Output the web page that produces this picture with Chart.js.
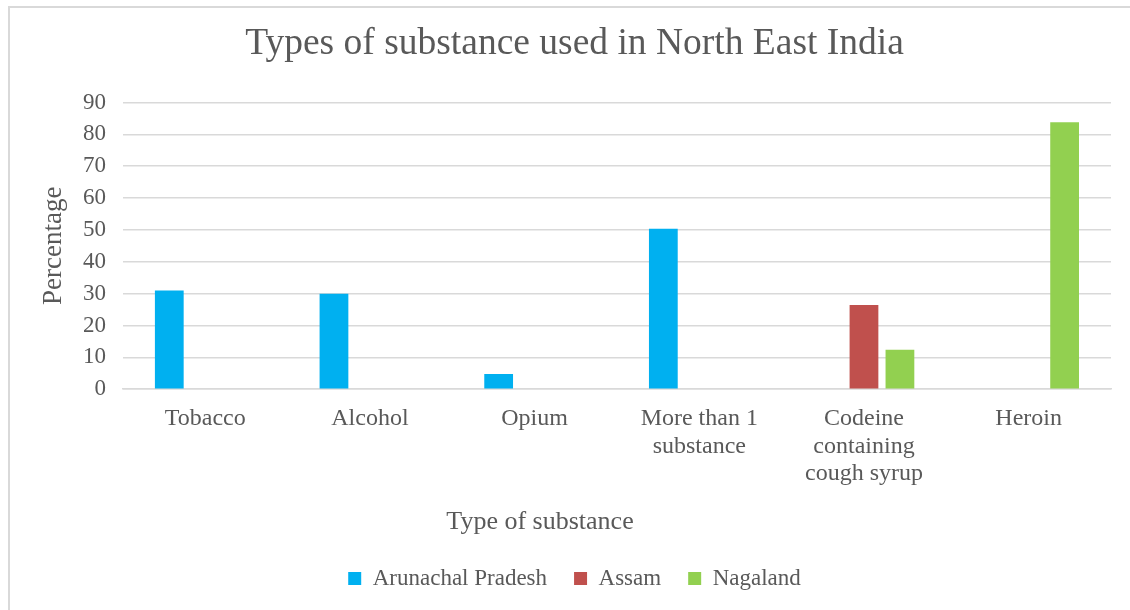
<!DOCTYPE html>
<html>
<head>
<meta charset="utf-8">
<script src="https://cdn.jsdelivr.net/npm/chart.js@4"></script>
<style>
  html, body { margin: 0; padding: 0; background: #fff; overflow: hidden; }
  #wrap { position: relative; width: 1130px; height: 610px; }
  #frame { position: absolute; left: 8px; top: 6px; width: 1200px; height: 700px;
           border-left: 2px solid #d9d9d9; border-top: 2px solid #d9d9d9; box-sizing: border-box; }
  canvas { position: absolute; left: 0; top: 0; }
</style>
</head>
<body>
<div id="wrap">
  <div id="frame"></div>
  <canvas id="substanceChart" width="1130" height="610"></canvas>
</div>
<script>
// ── Types of substance used in North East India ──

const categories = ['Tobacco', 'Alcohol', 'Opium', ['More than 1', 'substance'], ['Codeine', 'containing', 'cough syrup'], 'Heroin'];
const arunachal = [31, 30, 4.8, 50.4, null, null];
const assam     = [null, null, null, null, 26.4, null];
const nagaland  = [null, null, null, null, 12.4, 83.8];
const yTicks    = [0, 10, 20, 30, 40, 50, 60, 70, 80, 90];

const serif = '"Liberation Serif", "Times New Roman", serif';
const grey = '#595959';

// x axis title sits left of centre in the original, so it is drawn by hand
const xTitle = {
  id: 'xTitle',
  afterDraw(chart) {
    const ctx = chart.ctx;
    ctx.save();
    ctx.font = '26px ' + serif;
    ctx.fillStyle = grey;
    ctx.textAlign = 'center';
    ctx.textBaseline = 'middle';
    ctx.fillText('Type of substance', 540, 522);
    ctx.restore();
  }
};

new Chart(document.getElementById('substanceChart').getContext('2d'), {
  type: 'bar',
  data: {
    labels: categories,
    datasets: [
      { label: 'Arunachal Pradesh', data: arunachal, backgroundColor: '#00b0f0' },
      { label: 'Assam', data: assam, backgroundColor: '#c0504d' },
      { label: 'Nagaland', data: nagaland, backgroundColor: '#92d050' }
    ]
  },
  options: {
    responsive: false,
    animation: false,
    categoryPercentage: 0.655,
    barPercentage: 0.8,
    layout: { padding: { left: 38, right: 19, top: 0, bottom: 10 } },
    plugins: {
      title: {
        display: true,
        text: 'Types of substance used in North East India',
        color: grey,
        font: { family: serif, size: 37.5, weight: 'normal', lineHeight: 1.2 },
        padding: { top: 21.5, bottom: 36 }
      },
      legend: {
        position: 'bottom',
        labels: {
          color: grey,
          font: { family: serif, size: 23 },
          boxWidth: 13, boxHeight: 13,
          padding: 27
        }
      },
      tooltip: { enabled: false }
    },
    scales: {
      x: {
        grid: { display: false },
        border: { color: '#d9d9d9', width: 1.5 },
        ticks: {
          color: grey, maxRotation: 0, autoSkip: false, padding: 8,
          font: { family: serif, size: 24, lineHeight: 1.15 }
        },
        afterFit(scale) { scale.height += 44; }
      },
      y: {
        min: 0, max: 90,
        afterBuildTicks(scale) { scale.ticks = yTicks.map(v => ({ value: v })); },
        grid: { color: '#d9d9d9', lineWidth: 1.5, drawTicks: false },
        border: { display: false },
        ticks: {
          color: grey, padding: 17,
          font: { family: serif, size: 23 }
        },
        title: {
          display: true,
          text: 'Percentage',
          color: grey,
          font: { family: serif, size: 27, lineHeight: 1.2 },
          padding: { top: 0, bottom: 11.5 }
        },
        afterFit(scale) { scale.width -= 16; }
      }
    }
  },
  plugins: [xTitle]
});
</script>
</body>
</html>
